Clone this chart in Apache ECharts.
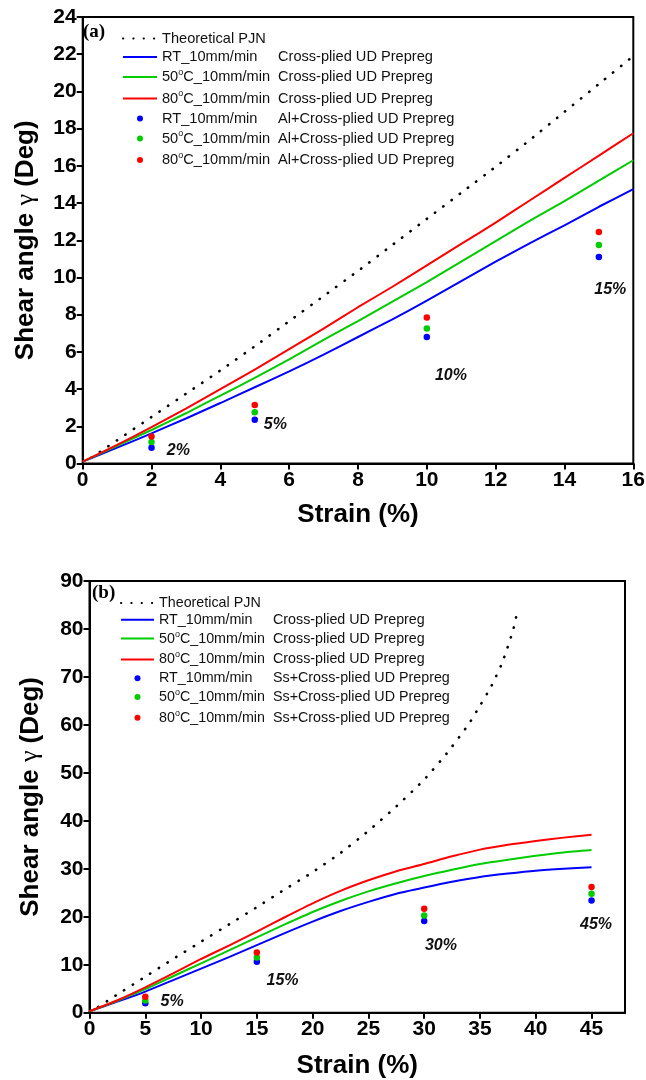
<!DOCTYPE html>
<html><head><meta charset="utf-8">
<script src="https://cdn.jsdelivr.net/npm/echarts@6/dist/echarts.min.js"></script>
<style>html,body{margin:0;padding:0;background:#fff;} #a,#b{width:646px;height:540px;}</style>
</head><body><div id="a"></div><div id="b"></div>
<script>
// ---------------- DATA: chart (a) ----------------
const strainA = [0,1,2,3,4,5,6,7,8,9,10,11,12,13,14,15,16];
const theoA  = [0,1.25,2.5,3.75,5.0,6.3,7.65,9.0,10.35,11.75,13.15,14.55,15.95,17.4,18.9,20.4,21.9];
const rtA    = [0.1,0.85,1.62,2.42,3.25,4.1,4.95,5.85,6.8,7.75,8.75,9.8,10.85,11.85,12.8,13.8,14.75];
const c50A   = [0.1,0.95,1.8,2.7,3.65,4.6,5.6,6.65,7.65,8.7,9.75,10.85,11.95,13.05,14.1,15.2,16.3];
const c80A   = [0.1,1.0,1.95,2.95,4.0,5.05,6.15,7.25,8.4,9.5,10.65,11.8,12.95,14.15,15.35,16.55,17.75];
const ptXA   = [2,5,10,15];
const ptRtA  = [0.85,2.35,6.8,11.1];
const pt50A  = [1.15,2.75,7.25,11.75];
const pt80A  = [1.45,3.15,7.85,12.45];
const lblXA  = [2.78,5.6,10.7,15.33];
const lblYA  = [0.7,2.1,4.7,9.35];
const lblTA  = ['2%','5%','10%','15%'];
const ticksXA = [0,2,4,6,8,10,12,14,16];
const ticksYA = [0,2,4,6,8,10,12,14,16,18,20,22,24];

// ---------------- DATA: chart (b) ----------------
const strainB = [0,2.5,5,7.5,10,12.5,15,17.5,20,22.5,25,27.5,30,32.5,35,37.5,40,42.5,45];
const rtB     = [0.3,2.3,4.4,6.8,9.2,11.6,14.1,16.6,19.0,21.2,23.1,24.8,26.1,27.3,28.3,29.0,29.6,30.0,30.3];
const c50B    = [0.3,2.5,4.9,7.6,10.3,13.0,15.7,18.4,21.0,23.3,25.3,27.0,28.5,29.8,31.0,31.9,32.7,33.4,33.9];
const c80B    = [0.3,2.6,5.3,8.2,11.2,14.0,16.9,19.9,22.8,25.4,27.6,29.5,31.0,32.6,34.0,35.0,35.8,36.5,37.1];
const theoXB  = [0,2.5,5,7.5,10,12.5,15,17.5,20,22.5,25,27.5,30,32,34,35,36,37,38,38.4];
const theoB   = [0,3.8,7.5,11.2,14.8,18.4,22.0,25.7,29.3,33.3,37.9,43.0,48.6,54.0,60.2,64.0,68.0,73.0,80.0,84.3];
const ptXB    = [5,15,30,45];
const ptRtB   = [1.95,10.6,19.1,23.4];
const pt50B   = [2.55,11.5,20.25,24.8];
const pt80B   = [3.3,12.55,21.65,26.2];
const lblXB   = [7.4,17.3,31.5,45.4];
const lblYB   = [2.3,6.7,13.9,18.3];
const lblTB   = ['5%','15%','30%','45%'];
const ticksXB = [0,5,10,15,20,25,30,35,40,45];
const ticksYB = [0,10,20,30,40,50,60,70,80,90];

const namesA = ['Theoretical PJN',
  'RT_10mm/min|Cross-plied UD Prepreg','50°C_10mm/min|Cross-plied UD Prepreg','80°C_10mm/min|Cross-plied UD Prepreg',
  'RT_10mm/min|Al+Cross-plied UD Prepreg','50°C_10mm/min|Al+Cross-plied UD Prepreg','80°C_10mm/min|Al+Cross-plied UD Prepreg'];
const namesB = ['Theoretical PJN',
  'RT_10mm/min|Cross-plied UD Prepreg','50°C_10mm/min|Cross-plied UD Prepreg','80°C_10mm/min|Cross-plied UD Prepreg',
  'RT_10mm/min|Ss+Cross-plied UD Prepreg','50°C_10mm/min|Ss+Cross-plied UD Prepreg','80°C_10mm/min|Ss+Cross-plied UD Prepreg'];

// ---------------- STYLE ----------------
const FONT = '"Liberation Sans", Arial, sans-serif';
const BLUE = '#0000FF', GREEN = '#00CC00', RED = '#FF0000';
const ctx = document.createElement('canvas').getContext('2d');
function measure(t, size){ ctx.font = size + 'px "Liberation Sans"'; return ctx.measureText(t).width; }

function legendCfg(names, left, top, itemWidth, colW, size, gap){
  const supSize = 9;
  const used = measure('50', size) + measure('o', supSize);
  const base = {fontFamily: FONT, fontSize: size, color: '#111', lineHeight: 16};
  return {
    orient: 'vertical', left: left, top: top, padding: 0,
    itemWidth: itemWidth, itemHeight: 6, itemGap: gap,
    selectedMode: false,
    // the first four entries are lines: hide the marker that ECharts draws on line icons
    data: names.map((n, i) => i < 4 ? {name: n, itemStyle: {opacity: 0}} : {name: n}),
    textStyle: {fontFamily: FONT, fontSize: size, color: '#111',
      rich: {
        t: base,
        f: Object.assign({}, base, {width: colW}),
        w: Object.assign({}, base, {width: colW - used}),
        s: {fontFamily: FONT, fontSize: supSize, color: '#111', lineHeight: 16, padding: [0,0,9,0]}
      }},
    formatter: function(name){
      const parts = name.split('|');
      if (parts.length < 2) return '{t|' + parts[0] + '}';
      const first = parts[0], second = parts[1];
      if (first.indexOf('°') >= 0){
        const p = first.split('°');
        return '{t|' + p[0] + '}{s|o}{w|' + p[1] + '}{t|' + second + '}';
      }
      return '{f|' + first + '}{t|' + second + '}';
    }
  };
}

function axisX(min, max, interval, ticks, nameGap){
  return {type: 'value', min: min, max: max, interval: interval,
    name: 'Strain (%)', nameLocation: 'middle', nameGap: nameGap,
    nameTextStyle: {fontFamily: FONT, fontWeight: 'bold', fontSize: 26, color: '#000'},
    axisLine: {show: true, onZero: false, lineStyle: {color: '#000', width: 2}},
    axisTick: {show: true, inside: false, length: 6, lineStyle: {color: '#000', width: 2}, customValues: ticks},
    axisLabel: {show: true, fontFamily: FONT, fontWeight: 'bold', fontSize: 21, color: '#000', margin: 6, customValues: ticks},
    splitLine: {show: false}};
}
function axisY(min, max, interval, ticks, nameGap){
  return {type: 'value', min: min, max: max, interval: interval,
    name: '{n|Shear angle }{g|γ}{n| (Deg)}', nameLocation: 'middle', nameGap: nameGap, nameRotate: 90,
    nameTextStyle: {color: '#000', rich: {
      n: {fontFamily: FONT, fontWeight: 'bold', fontSize: 26, color: '#000'},
      g: {fontFamily: '"Liberation Serif", serif', fontWeight: 'normal', fontSize: 26, color: '#000'}}},
    axisLine: {show: true, onZero: false, lineStyle: {color: '#000', width: 2}},
    axisTick: {show: true, inside: false, length: 6, lineStyle: {color: '#000', width: 2}, customValues: ticks},
    axisLabel: {show: true, fontFamily: FONT, fontWeight: 'bold', fontSize: 21, color: '#000', margin: 6, customValues: ticks},
    splitLine: {show: false}};
}
function pairs(xs, ys){ return xs.map((x, i) => [x, ys[i]]); }
function lineS(name, xs, ys, color, dotted){
  return {type: 'line', name: name, data: pairs(xs, ys), symbol: 'none', showSymbol: false, smooth: 0.2,
    lineStyle: dotted ? {color: color, width: 2.6, type: [0.3, 10], cap: 'round'} : {color: color, width: 2},
    itemStyle: {color: color}, emphasis: {disabled: true}, silent: true, z: 2};
}
function scatS(name, xs, ys, color){
  return {type: 'scatter', name: name, data: pairs(xs, ys), symbol: 'circle', symbolSize: 6.5,
    itemStyle: {color: color, opacity: 1}, emphasis: {disabled: true}, silent: true, z: 3};
}
function labelS(xs, ys, texts){
  return {type: 'scatter', data: xs.map((x, i) => ({value: [x, ys[i]], name: texts[i]})),
    symbolSize: 1, itemStyle: {color: 'rgba(0,0,0,0)', opacity: 1}, silent: true, emphasis: {disabled: true},
    label: {show: true, position: 'inside', formatter: '{b}', fontFamily: FONT, fontWeight: 'bold',
      fontStyle: 'italic', fontSize: 16, color: '#111', opacity: 1}, z: 4};
}

// ---------------- CHART (a) ----------------
const chartA = echarts.init(document.getElementById('a'), null, {renderer: 'canvas'});
chartA.setOption({
  animation: false, backgroundColor: '#fff',
  title: {text: '(a)', left: 83, top: 23, padding: 0,
    textStyle: {fontFamily: '"Liberation Serif", serif', fontWeight: 'bold', fontSize: 19, color: '#000'}},
  legend: legendCfg(namesA, 122, 31, 34, 116, 14.6, 3.5),
  grid: {left: 82.7, right: 12.7, top: 17, bottom: 76.5, show: true, borderColor: '#000', borderWidth: 2,
    containLabel: false, outerBoundsMode: 'none'},
  xAxis: axisX(0, 16, 2, ticksXA, 38),
  yAxis: axisY(0, 24, 2, ticksYA, 44),
  series: [
    lineS(namesA[0], strainA, theoA, '#000', true),
    lineS(namesA[1], strainA, rtA, BLUE),
    lineS(namesA[2], strainA, c50A, GREEN),
    lineS(namesA[3], strainA, c80A, RED),
    scatS(namesA[4], ptXA, ptRtA, BLUE),
    scatS(namesA[5], ptXA, pt50A, GREEN),
    scatS(namesA[6], ptXA, pt80A, RED),
    labelS(lblXA, lblYA, lblTA)
  ]
});

// ---------------- CHART (b) ----------------
const chartB = echarts.init(document.getElementById('b'), null, {renderer: 'canvas'});
chartB.setOption({
  animation: false, backgroundColor: '#fff',
  title: {text: '(b)', left: 92, top: 44, padding: 0,
    textStyle: {fontFamily: '"Liberation Serif", serif', fontWeight: 'bold', fontSize: 19, color: '#000'}},
  legend: legendCfg(namesB, 120, 56, 33, 114, 14.3, 2.8),
  grid: {left: 89.5, right: 21, top: 41, bottom: 67.3, show: true, borderColor: '#000', borderWidth: 2,
    containLabel: false, outerBoundsMode: 'none'},
  xAxis: axisX(0, 48, 5, ticksXB, 40),
  yAxis: axisY(0, 90, 10, ticksYB, 46),
  series: [
    lineS(namesB[0], theoXB, theoB, '#000', true),
    lineS(namesB[1], strainB, rtB, BLUE),
    lineS(namesB[2], strainB, c50B, GREEN),
    lineS(namesB[3], strainB, c80B, RED),
    scatS(namesB[4], ptXB, ptRtB, BLUE),
    scatS(namesB[5], ptXB, pt50B, GREEN),
    scatS(namesB[6], ptXB, pt80B, RED),
    labelS(lblXB, lblYB, lblTB)
  ]
});
</script></body></html>
